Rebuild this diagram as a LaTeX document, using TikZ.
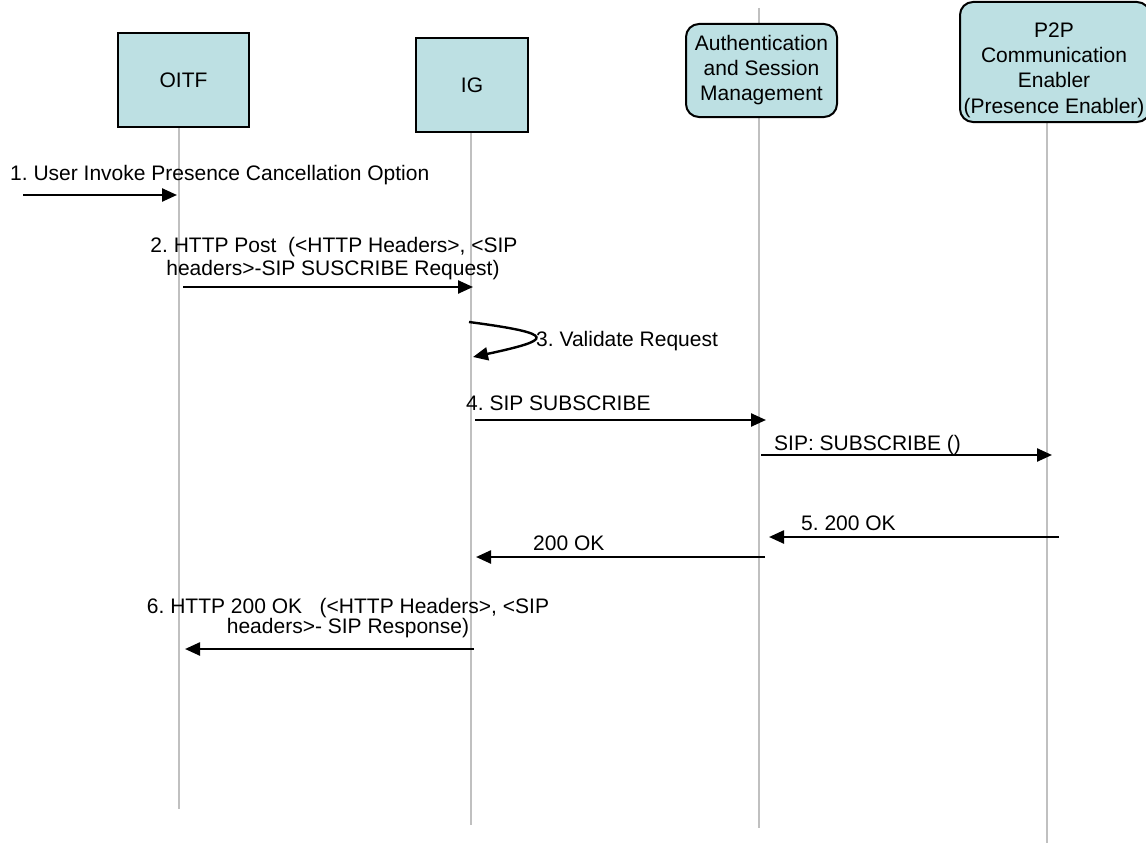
\documentclass[tikz,border=0pt]{standalone}
\usepackage{fontspec}
\setmainfont{Liberation Sans}
\usetikzlibrary{arrows.meta}
\definecolor{boxfill}{HTML}{BDE0E3}
\definecolor{lifegray}{HTML}{C0C0C0}
\frenchspacing
\begin{document}
\begin{tikzpicture}[x=1pt,y=-1pt,
  lbl/.style={font=\fontsize{21}{25}\selectfont, inner sep=0pt},
  sqbox/.style={draw=black, line width=2pt, fill=boxfill, inner sep=2pt, font=\fontsize{21}{25}\selectfont},
  rndbox/.style={sqbox, rounded corners=13pt},
  lifeline/.style={draw=lifegray, line width=1.8pt},
  msg/.style={draw=black, line width=2.4pt, -{Triangle[length=15pt,width=13pt]}}]
\useasboundingbox (0,0) rectangle (1146,843);
% lifeline end points
\coordinate (oitfEnd) at (179,809);
\coordinate (igEnd) at (471,825);
\coordinate (asmTop) at (759,8);
\coordinate (asmEnd) at (759,828);
\coordinate (p2pEnd) at (1047,845);
% lifelines (behind boxes)
\draw[lifeline] (179,127) -- (oitfEnd);
\draw[lifeline] (471,132) -- (igEnd);
\draw[lifeline] (asmTop) -- (asmEnd);
\draw[lifeline] (1047,122) -- (p2pEnd);
% boxes
\node[sqbox, minimum width=131pt, minimum height=94pt] (oitf) at (183.5,80) {OITF};
\node[sqbox, minimum width=112pt, minimum height=94pt] (ig) at (472,85) {IG};
\node[rndbox, minimum width=151pt, minimum height=93pt, align=center] (asm) at (761.5,70.5)
  {Authentication\\and Session\\Management};
\node[rndbox, minimum width=190pt, minimum height=120pt] (p2p) at (1055,62) {};
\node[lbl, align=center, font=\fontsize{21}{25.3}\selectfont] (p2pt) at (1054,70)
  {P2P\\Communication\\Enabler\\(Presence Enabler)};
% message end points
\coordinate (m1s) at (23,195);   \coordinate (m1e) at (177,195);
\coordinate (m2s) at (183,287);  \coordinate (m2e) at (473,287);
\coordinate (m3s) at (469,322);  \coordinate (m3e) at (473,357);
\coordinate (m4s) at (475,420);  \coordinate (m4e) at (766,420);
\coordinate (m4bs) at (761,455); \coordinate (m4be) at (1052,455);
\coordinate (m5s) at (1059,537); \coordinate (m5e) at (769,537);
\coordinate (m5bs) at (765,557); \coordinate (m5be) at (476,557);
\coordinate (m6s) at (474,649);  \coordinate (m6e) at (185,649);
% messages
\draw[msg] (m1s) -- (m1e);
\draw[msg] (m2s) -- (m2e);
\draw[msg] (m3s) .. controls (560,334) and (552,340) .. (m3e);
\draw[msg] (m4s) -- (m4e);
\draw[msg] (m4bs) -- (m4be);
\draw[msg] (m5s) -- (m5e);
\draw[msg] (m5bs) -- (m5be);
\draw[msg] (m6s) -- (m6e);
% labels
\node[lbl, anchor=base west] (t1) at (10,180) {1. User Invoke Presence Cancellation Option};
\node[lbl, anchor=base] (t2a) at (334,252) {2. HTTP Post~~(<HTTP Headers>, <SIP};
\node[lbl, anchor=base] (t2b) at (333,275) {headers>-SIP SUSCRIBE Request)};
\node[lbl, anchor=base west] (t3) at (536,346) {3. Validate Request};
\node[lbl, anchor=base west] (t4) at (466,410) {4. SIP SUBSCRIBE};
\node[lbl, anchor=base west] (t4b) at (774,450) {SIP: SUBSCRIBE ()};
\node[lbl, anchor=base west] (t5) at (801,530) {5. 200 OK};
\node[lbl, anchor=base west] (t5b) at (533,550) {200 OK};
\node[lbl, anchor=base] (t6a) at (348,613) {6. HTTP 200 OK~~~(<HTTP Headers>, <SIP};
\node[lbl, anchor=base] (t6b) at (348,633) {headers>- SIP Response)};
\end{tikzpicture}
\end{document}
